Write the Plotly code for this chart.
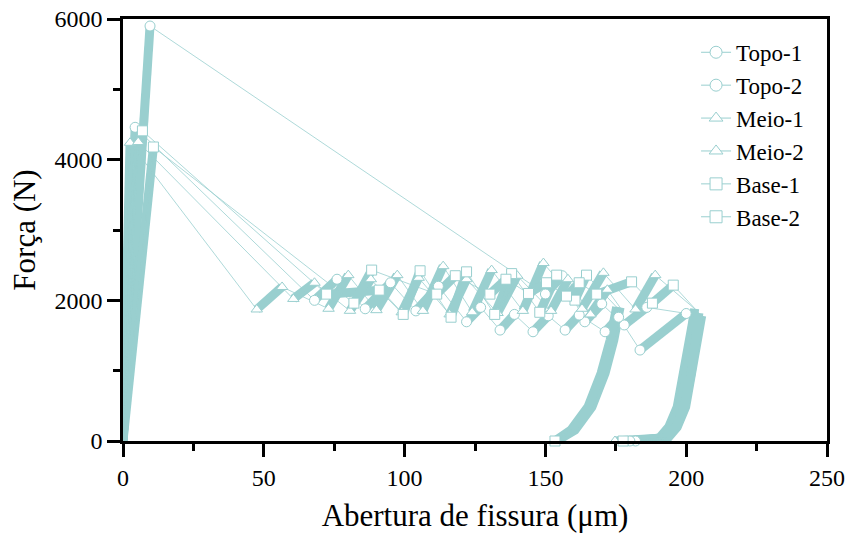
import plotly.graph_objects as go

# ---------------- data (µm, N) ----------------
series_names = ["Topo-1", "Topo-2", "Meio-1", "Meio-2", "Base-1", "Base-2"]

# Topo-1
topo1_peak_x, topo1_peak_y = 9.6, 5900
topo1_valley_x = [150, 164, 178]
topo1_valley_y = [2090, 1695, 1650]
topo1_top_x = [156, 170, 186]
topo1_top_y = [2350, 1950, 1900]
topo1_unload_x = [205.5, 204.0, 202.2, 199.8, 196.8, 193.5, 188.0, 182.0]
topo1_unload_y = [1780, 1435, 966, 483, 199, 43, 12, 0]

# Topo-2
topo2_peak_x, topo2_peak_y = 4.3, 4460
topo2_valley_x = [68, 86, 104, 122, 133.9, 145.6, 157, 171.2, 183.6]
topo2_valley_y = [2000, 1880, 1850, 1695, 1577, 1553, 1577, 1553, 1293]
topo2_top_x = [76, 95, 112, 127, 139, 151, 162, 176, 200]
topo2_top_y = [2300, 2250, 2200, 1900, 1800, 1780, 1790, 1760, 1813]
topo2_unload_x = [202.8, 201.0, 199.2, 196.8, 193.8, 190.5, 185.0, 180.0]
topo2_unload_y = [1800, 1435, 966, 483, 199, 43, 10, 0]

# Meio-1
meio1_peak_x, meio1_peak_y = 2.5, 4240
meio1_valley_x = [47.5, 73, 90, 106.5, 124, 142, 163, 182]
meio1_valley_y = [1870, 1880, 1860, 1850, 1830, 1850, 1880, 1870]
meio1_top_x = [56.5, 80, 97.4, 113.7, 130.9, 149.3, 170.6, 189]
meio1_top_y = [2190, 2358, 2358, 2486, 2430, 2530, 2391, 2358]
meio1_unload_x = [203.0, 202.0, 200.2, 197.8, 194.8, 191.5, 183.0, 174.7]
meio1_unload_y = [1880, 1435, 966, 483, 199, 43, 10, 0]

# Meio-2
meio2_peak_x, meio2_peak_y = 5.4, 4250
meio2_valley_x = [60.5, 80.6, 99, 116, 133, 152, 166]
meio2_valley_y = [2020, 1851, 1830, 1800, 1820, 1850, 1800]
meio2_top_x = [68, 88, 105, 122, 140, 158, 172]
meio2_top_y = [2250, 2300, 2320, 2300, 2350, 2300, 2150]
meio2_unload_x = [176.5, 174.3, 171.2, 166.5, 160.5, 155.0, 154.0]
meio2_unload_y = [1900, 1435, 966, 483, 156, 14, 0]

# Base-1
base1_peak_x, base1_peak_y = 6.9, 4410
base1_valley_x = [72.3, 99.5, 116.5, 132, 148, 160.5]
base1_valley_y = [2088, 1800, 1760, 1800, 1830, 2003]
base1_top_x = [91, 105.5, 122, 138, 154, 164.6]
base1_top_y = [2145, 2420, 2405, 2380, 2358, 2358]
base1_unload_x = [175.3, 173.0, 169.8, 165.1, 159.1, 153.8, 153.4]
base1_unload_y = [1903, 1435, 966, 483, 156, 14, 0]

# Base-2
base2_peak_x, base2_peak_y = 10.8, 4180
base2_valley_x = [82, 111.4, 130.3, 144, 157.5, 168.2, 188]
base2_valley_y = [1960, 2088, 2088, 2098, 2060, 2088, 1960]
base2_top_x = [88.3, 118, 136, 150.4, 162, 180.6, 195.4]
base2_top_y = [2430, 2350, 2300, 2250, 2250, 2263, 2216]
base2_unload_x = [204.5, 203.5, 201.8, 199.3, 196.3, 193.0, 186.0, 177.6]
base2_unload_y = [1820, 1435, 966, 483, 199, 43, 12, 0]

x_ticks = [0, 50, 100, 150, 200, 250]
y_ticks = [0, 2000, 4000, 6000]

# ---------------- assembly ----------------
series = [
    (topo1_peak_x, topo1_peak_y, topo1_valley_x, topo1_valley_y, topo1_top_x, topo1_top_y, topo1_unload_x, topo1_unload_y),
    (topo2_peak_x, topo2_peak_y, topo2_valley_x, topo2_valley_y, topo2_top_x, topo2_top_y, topo2_unload_x, topo2_unload_y),
    (meio1_peak_x, meio1_peak_y, meio1_valley_x, meio1_valley_y, meio1_top_x, meio1_top_y, meio1_unload_x, meio1_unload_y),
    (meio2_peak_x, meio2_peak_y, meio2_valley_x, meio2_valley_y, meio2_top_x, meio2_top_y, meio2_unload_x, meio2_unload_y),
    (base1_peak_x, base1_peak_y, base1_valley_x, base1_valley_y, base1_top_x, base1_top_y, base1_unload_x, base1_unload_y),
    (base2_peak_x, base2_peak_y, base2_valley_x, base2_valley_y, base2_top_x, base2_top_y, base2_unload_x, base2_unload_y),
]
symbols = ["circle", "circle", "triangle-up", "triangle-up", "square", "square"]
COLOR = "#99CFCF"
FONT = "Liberation Serif"

fig = go.Figure()
thick, thin, marks = [], [], []
for name, sym, (px, py, vx, vy, tx, ty, ux, uy) in zip(series_names, symbols, series):
    # dense (thick) segments: ramp, reload cycles, final unloading
    bx, by = [0, px, None], [0, py, None]
    for a, b, c, d in zip(vx, vy, tx, ty):
        bx += [a, c, None]
        by += [b, d, None]
    bx += list(ux)
    by += list(uy)
    thick.append(go.Scatter(x=bx, y=by, mode="lines", showlegend=False, hoverinfo="skip",
                            line=dict(color=COLOR, width=9), connectgaps=False))
    # full path (thin)
    fx, fy = [0, px], [0, py]
    for a, b, c, d in zip(vx, vy, tx, ty):
        fx += [a, c]
        fy += [b, d]
    fx += list(ux)
    fy += list(uy)
    thin.append(go.Scatter(x=fx, y=fy, mode="lines", showlegend=False, hoverinfo="skip",
                           line=dict(color=COLOR, width=0.8)))
    # markers at key points
    mx = [px] + list(vx) + list(tx) + [ux[-1]]
    my = [py] + list(vy) + list(ty) + [uy[-1]]
    marks.append(go.Scatter(x=mx, y=my, mode="markers", showlegend=False, cliponaxis=False,
                            marker=dict(symbol=sym, size=10, color="white",
                                        line=dict(color=COLOR, width=1))))

for t in thick + thin + marks:
    fig.add_trace(t)

for name, sym in zip(series_names, symbols):
    fig.add_trace(go.Scatter(x=[None], y=[None], mode="lines+markers", name=name,
                             line=dict(color=COLOR, width=1),
                             marker=dict(symbol=sym, size=12, color="white",
                                         line=dict(color=COLOR, width=1))))

axis_common = dict(showgrid=False, zeroline=False, showline=True, linecolor="black",
                   linewidth=2.5, mirror=True, ticks="outside", ticklen=13, tickwidth=2.5,
                   tickcolor="black", automargin=False,
                   tickfont=dict(family=FONT, size=24, color="black"))

fig.update_layout(
    width=853, height=538,
    margin=dict(l=123, r=26, t=19, b=97),
    paper_bgcolor="white", plot_bgcolor="white",
    font=dict(family=FONT, color="black"),
    xaxis=dict(range=[0, 250], tickvals=x_ticks,
               minor=dict(ticks="outside", ticklen=7, tickwidth=2.5, tickcolor="black", dtick=25, tick0=0),
               title=dict(text="Abertura de fissura (μm)", font=dict(family=FONT, size=31), standoff=15),
               **axis_common),
    yaxis=dict(range=[0, 6000], tickvals=y_ticks,
               minor=dict(ticks="outside", ticklen=7, tickwidth=2.5, tickcolor="black", dtick=1000, tick0=0),
               title=dict(text="Força (N)", font=dict(family=FONT, size=31), standoff=10),
               **axis_common),
    legend=dict(x=0.814, y=0.972, xanchor="left", yanchor="top", bgcolor="rgba(0,0,0,0)",
                font=dict(family=FONT, size=23, color="black"), tracegroupgap=0),
)

fig.write_html("out.html", config={"displayModeBar": False},
               post_script="document.body.style.margin='0';document.body.style.overflow='hidden';")
